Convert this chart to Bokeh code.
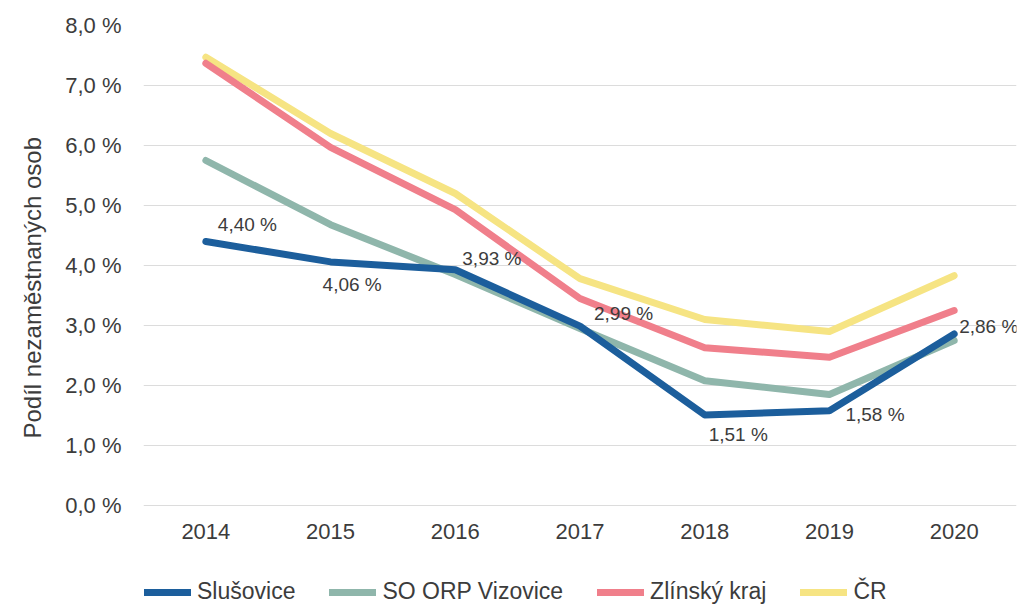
from bokeh.plotting import figure
from bokeh.models import (ColumnDataSource, FactorRange, Range1d, FixedTicker, LabelSet,
                          Legend, LegendItem, Title)
from bokeh.core.properties import value
from bokeh.embed import file_html
from bokeh.resources import INLINE

years = ["2014", "2015", "2016", "2017", "2018", "2019", "2020"]
slusovice = [4.40, 4.06, 3.93, 2.99, 1.51, 1.58, 2.86]
vizovice = [5.75, 4.68, 3.85, 2.95, 2.08, 1.85, 2.75]
zlinsky = [7.37, 5.97, 4.93, 3.45, 2.63, 2.47, 3.25]
cr = [7.47, 6.20, 5.20, 3.78, 3.10, 2.90, 3.83]
series_names = ["Slušovice", "SO ORP Vizovice", "Zlínský kraj", "ČR"]
y_ticks = [0, 1, 2, 3, 4, 5, 6, 7, 8]
y_tick_labels = ["0,0 %", "1,0 %", "2,0 %", "3,0 %", "4,0 %", "5,0 %", "6,0 %", "7,0 %", "8,0 %"]
y_title = "Podíl nezaměstnaných osob"

colors = ["#1c5e9c", "#8fb6ab", "#f07f8b", "#f6e483"]
FONT = "Liberation Sans"
TXT = "#3c3c3c"

# label placement (screen px) for Slušovice values
lab_dx = [12, -8, 7, 14, 4, 16, 5]
lab_dy = [17, -23, 11, 13, -20, -4, 7]

# frame reaches the canvas bottom so that the legend (inside the frame) is not clipped;
# the x axis is pinned at y = 0
p = figure(width=1022, height=607, x_range=FactorRange(*years, range_padding=0),
           y_range=Range1d(-1.7, 8), output_backend="svg", toolbar_location=None,
           min_border_left=143, min_border_right=6, min_border_top=25, min_border_bottom=0)
p.outline_line_color = None
p.xgrid.grid_line_color = None
p.ygrid.grid_line_color = "#dcdcdc"
p.ygrid.grid_line_width = 1

for ax in (p.xaxis[0], p.yaxis[0]):
    ax.axis_line_color = None
    ax.major_tick_line_color = None
    ax.minor_tick_line_color = None
    ax.major_label_text_font = FONT
    ax.major_label_text_font_size = "22px"
    ax.major_label_text_color = TXT

p.xaxis.fixed_location = 0
p.yaxis.ticker = FixedTicker(ticks=y_ticks)
p.yaxis.major_label_overrides = {t: l for t, l in zip(y_ticks, y_tick_labels)}
p.yaxis.major_label_standoff = 16
p.xaxis.major_label_standoff = 12

ttl = Title(text=y_title, align="left", offset=169, standoff=33, text_font=FONT,
            text_font_size="24px", text_font_style="normal", text_color=TXT)
p.add_layout(ttl, "left")

all_series = [slusovice, vizovice, zlinsky, cr]
renderers = {}
for i in [3, 2, 1, 0]:
    src = ColumnDataSource(dict(x=years, y=all_series[i]))
    renderers[i] = p.line("x", "y", source=src, line_color=colors[i], line_width=7,
                          line_cap="round", line_join="round")

items = [LegendItem(label=series_names[i], renderers=[renderers[i]]) for i in range(4)]
legend = Legend(items=items, orientation="horizontal", location=(1, 2),
                glyph_width=47, glyph_height=20, spacing=34, label_standoff=6,
                padding=0, margin=0, border_line_alpha=0, background_fill_alpha=0,
                label_text_font=FONT, label_text_font_size="23px", label_text_color=TXT)
p.add_layout(legend, "center")

lab_src = ColumnDataSource(dict(x=years, y=slusovice,
                                t=[("%.2f %%" % v).replace(".", ",") for v in slusovice],
                                dx=lab_dx, dy=lab_dy))
labels = LabelSet(x="x", y="y", text="t", source=lab_src, x_offset="dx", y_offset="dy",
                  text_align="left", text_baseline="middle", text_font=value(FONT),
                  text_font_size=value("19px"), text_color=TXT)
p.add_layout(labels)

open("out.html", "w").write(file_html(p, INLINE))
